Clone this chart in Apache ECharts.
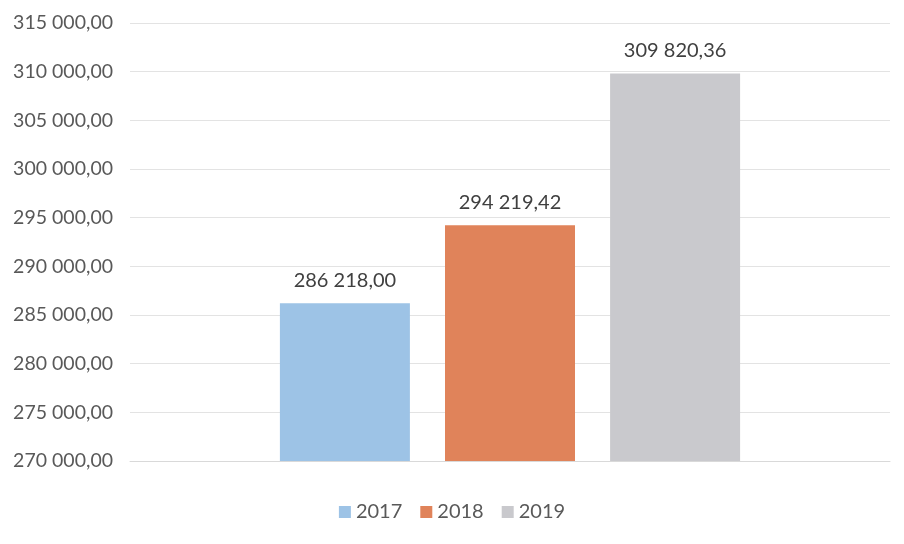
<!DOCTYPE html>
<html><head><meta charset="utf-8">
<script src="https://cdn.jsdelivr.net/npm/echarts@6/dist/echarts.min.js"></script>
<style>html,body{margin:0;padding:0;background:#fff}#c{width:904px;height:544px}</style>
</head><body><div id="c"></div>
<script>
const seriesNames = ['2017', '2018', '2019'];
const values = [286218.00, 294219.42, 309820.36];
const colors = ['#9DC3E6', '#E0835A', '#C9C9CD'];
const yMin = 270000, yMax = 315000, yStep = 5000;

function fmt(v) {
  const parts = v.toFixed(2).split('.');
  const intPart = parts[0].replace(/\B(?=(\d{3})+(?!\d))/g, ' ');
  return intPart + ',' + parts[1];
}
const font = 'Lato, "Open Sans", sans-serif';
const chart = echarts.init(document.getElementById('c'));
chart.setOption({
  animation: false,
  grid: { left: 130, right: 14, top: 23, bottom: 83 },
  legend: {
    bottom: 17, left: 'center', itemWidth: 12, itemHeight: 12, itemGap: 18,
    icon: 'rect',
    textStyle: { fontFamily: font, fontSize: 20, color: '#595959' },
    data: seriesNames
  },
  xAxis: {
    type: 'category', data: [''],
    axisLine: { show: true, lineStyle: { color: '#D9D9D9' } },
    axisTick: { show: false }, axisLabel: { show: false }
  },
  yAxis: {
    type: 'value', min: yMin, max: yMax, interval: yStep,
    axisLine: { show: false }, axisTick: { show: false },
    axisLabel: { formatter: fmt, fontFamily: font, fontSize: 19.5, color: '#595959', margin: 17 },
    splitLine: { lineStyle: { color: '#E3E3E3', width: 1 } }
  },
  series: seriesNames.map((n, i) => ({
    name: n, type: 'bar', data: [values[i]],
    barWidth: 130, barGap: '27%',
    itemStyle: { color: colors[i] },
    label: { show: true, position: 'top', distance: 13, formatter: p => fmt(p.value),
      fontFamily: font, fontSize: 20, color: '#404040' }
  }))
});
</script></body></html>
